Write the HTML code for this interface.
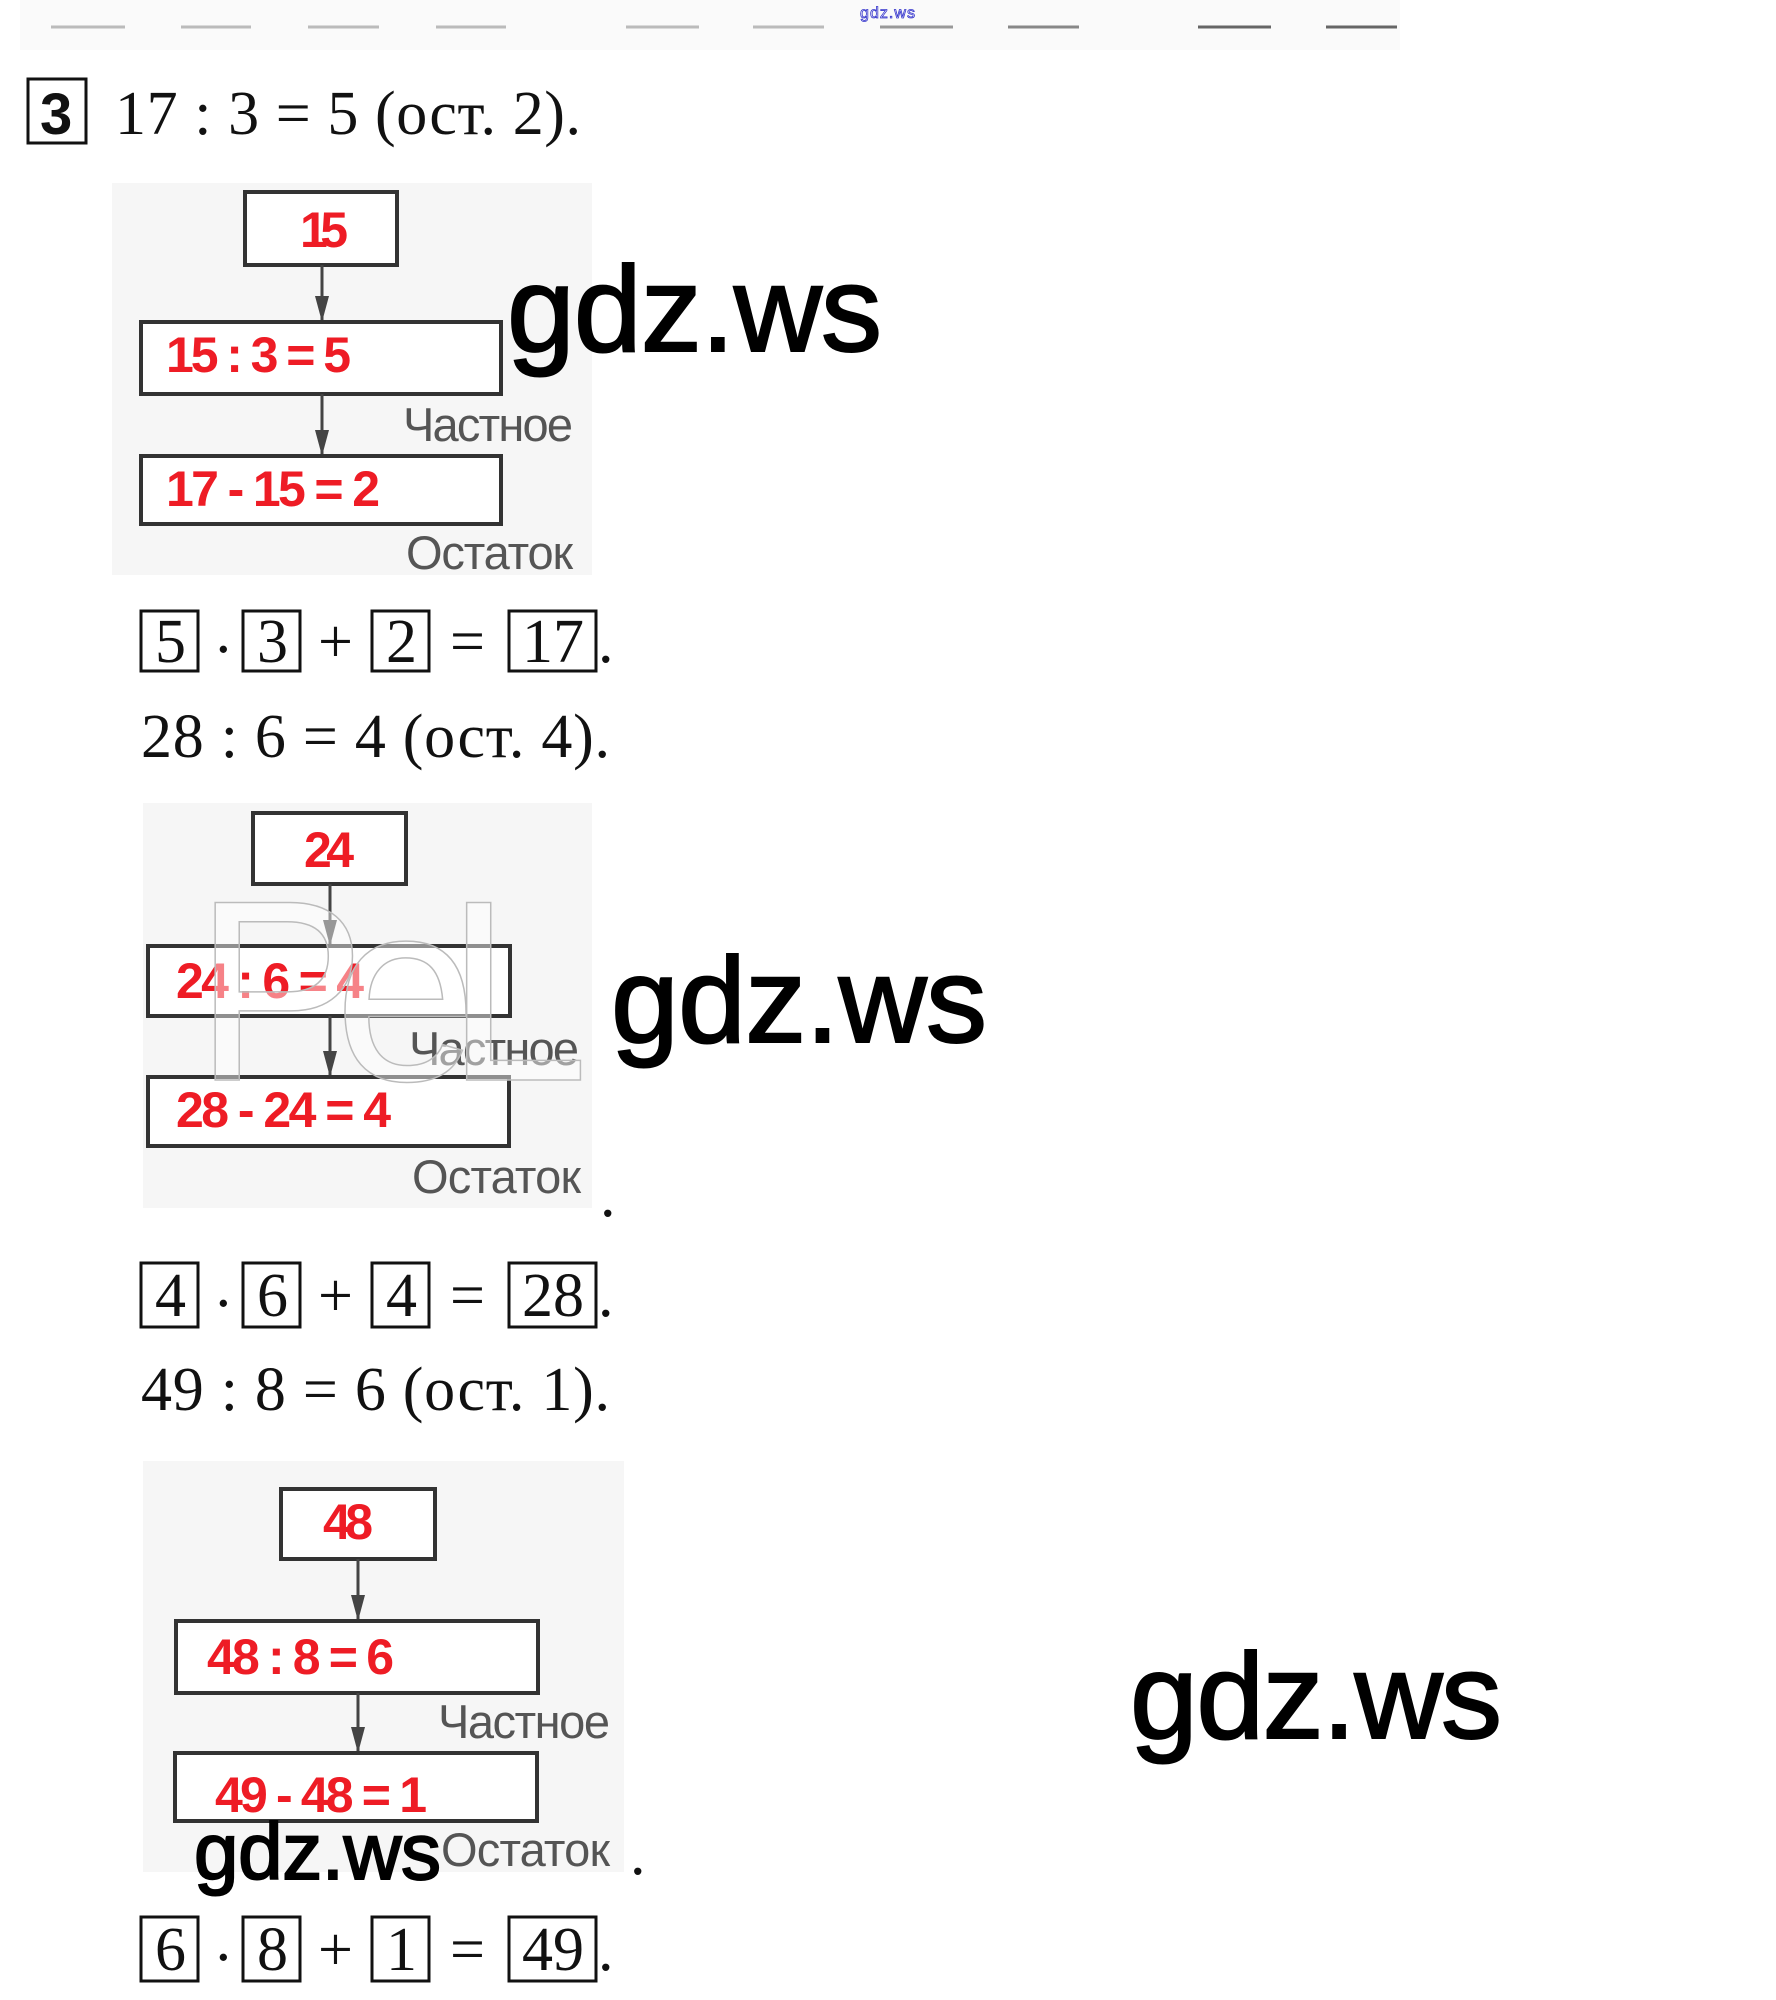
<!DOCTYPE html>
<html><head><meta charset="utf-8"><style>
html,body{margin:0;padding:0;background:#fff;}
svg{display:block;}
.ser{font-family:"Liberation Serif",serif;font-size:62px;fill:#111;}
.red{font-family:"Liberation Sans",sans-serif;font-weight:bold;font-size:50px;fill:#ee1c25;}
.gr{font-family:"Liberation Sans",sans-serif;font-size:47px;fill:#555;}
.wm{font-family:"Liberation Sans",sans-serif;fill:#000;stroke:#000;stroke-width:2;}
.bx{fill:#fff;stroke:#333;stroke-width:4;}
.eb{fill:none;stroke:#111;stroke-width:3;}
</style></head><body>
<svg width="1776" height="2000" viewBox="0 0 1776 2000" xmlns="http://www.w3.org/2000/svg">
<rect x="20" y="0" width="1380" height="50" fill="#fafafa"/>
<g stroke="#bbb" stroke-width="3">
<line x1="51" y1="27" x2="125" y2="27"/><line x1="181" y1="27" x2="251" y2="27"/><line x1="308" y1="27" x2="379" y2="27"/><line x1="436" y1="27" x2="506" y2="27"/><line x1="626" y1="27" x2="699" y2="27"/><line x1="753" y1="27" x2="824" y2="27"/><line x1="880" y1="27" x2="953" y2="27" stroke="#999"/><line x1="1008" y1="27" x2="1079" y2="27" stroke="#888"/><line x1="1198" y1="27" x2="1271" y2="27" stroke="#666"/><line x1="1326" y1="27" x2="1397" y2="27" stroke="#666"/>
</g>
<text x="860" y="18" font-family="Liberation Sans,sans-serif" font-size="16" fill="none" stroke="#33c" stroke-width="0.8" textLength="55">gdz.ws</text>

<rect x="28" y="79" width="58" height="64" class="eb" stroke-width="4"/>
<text x="40" y="134" font-family="Liberation Sans,sans-serif" font-weight="bold" font-size="58" fill="#111">3</text>
<text x="115" y="134" class="ser" textLength="466">17 : 3 = 5 (ост. 2).</text>

<!-- diagram 1 -->
<rect x="112" y="183" width="480" height="392" fill="#f6f6f6"/>
<rect x="245" y="192" width="152" height="73" class="bx"/>
<text x="300" y="247" class="red" textLength="48">15</text>
<line x1="322" y1="265" x2="322" y2="320" stroke="#444" stroke-width="3"/><polygon points="315,296 329,296 322,322" fill="#444"/>
<rect x="141" y="322" width="360" height="72" class="bx"/>
<text x="166" y="372" class="red" textLength="185">15 : 3 = 5</text>
<line x1="322" y1="394" x2="322" y2="454" stroke="#444" stroke-width="3"/><polygon points="315,430 329,430 322,456" fill="#444"/>
<text x="403" y="441" class="gr" textLength="170">Частное</text>
<rect x="141" y="456" width="360" height="68" class="bx"/>
<text x="166" y="506" class="red" textLength="214">17 - 15 = 2</text>
<text x="406" y="569" class="gr" textLength="167">Остаток</text>
<text x="507" y="351" class="wm" style="font-size:122px" textLength="375">gdz.ws</text>

<!-- eq 1 -->
<rect x="141" y="611" width="57" height="60" class="eb"/><text x="155" y="662" class="ser">5</text>
<text x="213" y="670" class="ser">·</text>
<rect x="243" y="611" width="57" height="60" class="eb"/><text x="257" y="662" class="ser">3</text>
<text x="318" y="662" class="ser">+</text>
<rect x="372" y="611" width="57" height="60" class="eb"/><text x="386" y="662" class="ser">2</text>
<text x="450" y="662" class="ser">=</text>
<rect x="509" y="611" width="87" height="60" class="eb"/><text x="522" y="662" class="ser">17</text>
<text x="598" y="662" class="ser">.</text>
<text x="141" y="757" class="ser" textLength="469">28 : 6 = 4 (ост. 4).</text>

<!-- diagram 2 -->
<rect x="143" y="803" width="449" height="405" fill="#f6f6f6"/>
<rect x="253" y="813" width="153" height="71" class="bx"/>
<text x="304" y="867" class="red" textLength="50">24</text>
<line x1="330" y1="884" x2="330" y2="944" stroke="#444" stroke-width="3"/><polygon points="323,920 337,920 330,946" fill="#444"/>
<rect x="148" y="946" width="362" height="70" class="bx"/>
<text x="176" y="998" class="red" textLength="188">24 : 6 = 4</text>
<line x1="330" y1="1016" x2="330" y2="1075" stroke="#444" stroke-width="3"/><polygon points="323,1051 337,1051 330,1077" fill="#444"/>
<text x="409" y="1065" class="gr" textLength="170">Частное</text>
<rect x="148" y="1077" width="361" height="69" class="bx"/>
<text x="176" y="1127" class="red" textLength="215">28 - 24 = 4</text>
<text x="412" y="1193" class="gr" textLength="169">Остаток</text>
<text x="194" y="1080" font-family="Liberation Sans,sans-serif" font-size="258" fill="rgba(255,255,255,0.45)" stroke="#bbb" stroke-width="1.5" textLength="395">PeL</text>
<text x="600" y="1216" class="ser">.</text>
<text x="611" y="1042" class="wm" style="font-size:122px" textLength="376">gdz.ws</text>

<!-- eq 2 -->
<rect x="141" y="1263" width="57" height="64" class="eb"/><text x="155" y="1316" class="ser">4</text>
<text x="213" y="1324" class="ser">·</text>
<rect x="243" y="1263" width="57" height="64" class="eb"/><text x="257" y="1316" class="ser">6</text>
<text x="318" y="1316" class="ser">+</text>
<rect x="372" y="1263" width="57" height="64" class="eb"/><text x="386" y="1316" class="ser">4</text>
<text x="450" y="1316" class="ser">=</text>
<rect x="509" y="1263" width="87" height="64" class="eb"/><text x="522" y="1316" class="ser">28</text>
<text x="598" y="1316" class="ser">.</text>
<text x="141" y="1410" class="ser" textLength="469">49 : 8 = 6 (ост. 1).</text>

<!-- diagram 3 -->
<rect x="143" y="1461" width="481" height="411" fill="#f6f6f6"/>
<rect x="281" y="1489" width="154" height="70" class="bx"/>
<text x="323" y="1539" class="red" textLength="50">48</text>
<line x1="358" y1="1559" x2="358" y2="1619" stroke="#444" stroke-width="3"/><polygon points="351,1595 365,1595 358,1621" fill="#444"/>
<rect x="176" y="1621" width="362" height="72" class="bx"/>
<text x="207" y="1674" class="red" textLength="187">48 : 8 = 6</text>
<line x1="358" y1="1693" x2="358" y2="1751" stroke="#444" stroke-width="3"/><polygon points="351,1727 365,1727 358,1753" fill="#444"/>
<text x="438" y="1738" class="gr" textLength="172">Частное</text>
<rect x="175" y="1753" width="362" height="68" class="bx"/>
<text x="215" y="1812" class="red" textLength="212">49 - 48 = 1</text>
<text x="441" y="1866" class="gr" textLength="169">Остаток</text>
<text x="630" y="1874" class="ser">.</text>
<text x="194" y="1879" class="wm" style="font-size:80px" textLength="247">gdz.ws</text>
<text x="1130" y="1738" class="wm" style="font-size:122px" textLength="372">gdz.ws</text>

<!-- eq 3 -->
<rect x="141" y="1917" width="57" height="64" class="eb"/><text x="155" y="1970" class="ser">6</text>
<text x="213" y="1978" class="ser">·</text>
<rect x="243" y="1917" width="57" height="64" class="eb"/><text x="257" y="1970" class="ser">8</text>
<text x="318" y="1970" class="ser">+</text>
<rect x="372" y="1917" width="57" height="64" class="eb"/><text x="386" y="1970" class="ser">1</text>
<text x="450" y="1970" class="ser">=</text>
<rect x="509" y="1917" width="87" height="64" class="eb"/><text x="522" y="1970" class="ser">49</text>
<text x="598" y="1970" class="ser">.</text>
</svg>
</body></html>
